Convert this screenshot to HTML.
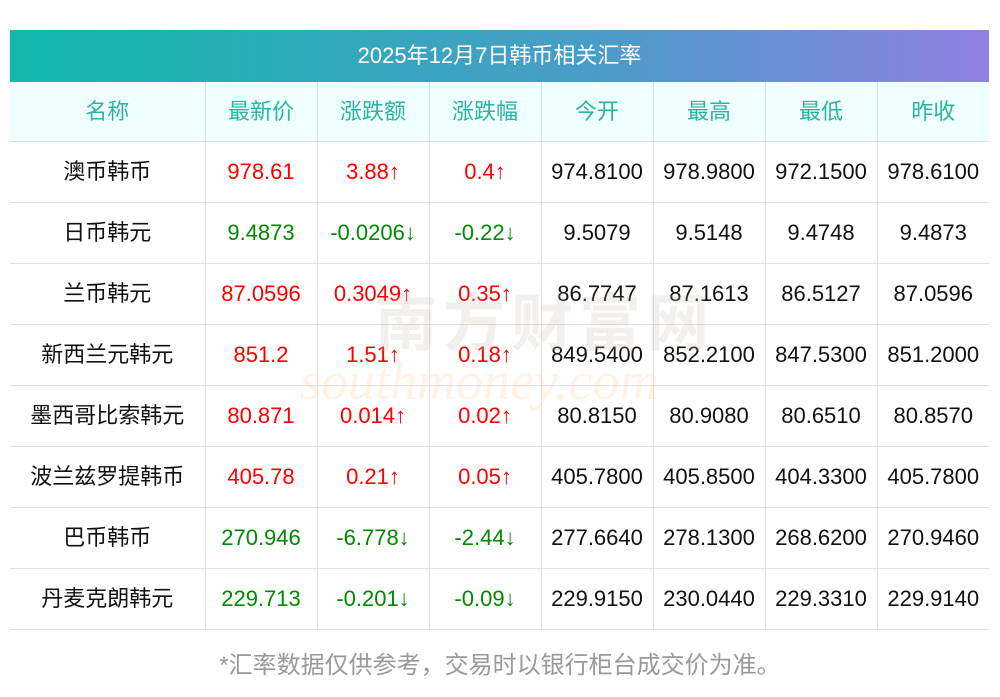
<!DOCTYPE html>
<html><head><meta charset="utf-8"><style>
body{margin:0;width:1000px;height:697px;background:#fff;font-family:"Liberation Sans","Noto Sans CJK SC",sans-serif;position:relative;overflow:hidden}
.title{position:absolute;left:10px;top:30px;width:979px;height:52px;background:linear-gradient(90deg,#12b9aa,#4a9cc8 60%,#9180e2);color:#fff;font-size:22px;line-height:52px;text-align:center}
table{position:absolute;left:10px;top:82px;width:979px;border-collapse:collapse;table-layout:fixed}
td,th{height:60px;border-bottom:1px solid #dfe0e8;border-left:1px solid #dfe0e8;text-align:center;font-size:22px;line-height:24px;font-weight:normal;padding:0;color:#111}
tr td:first-child,tr th:first-child{border-left:none}
th{background:#effffe;color:#2bb3a3;height:59px}
.r{color:#f00}.g{color:#008a00}
.foot{position:absolute;top:651px;width:1000px;text-align:center;color:#999;font-size:24px;line-height:30px}
.wm{position:absolute;left:375px;top:290px;font-size:62px;color:rgba(200,180,175,0.22);letter-spacing:6px;font-weight:bold;line-height:70px}
.wm2{position:absolute;left:300px;top:350px;font-size:54px;color:rgba(250,200,130,0.22);font-family:"Liberation Serif",serif;font-style:italic}
</style></head><body>
<div class="title">2025年12月7日韩币相关汇率</div>
<table>
<colgroup><col style="width:195px"><col style="width:112px"><col style="width:112px"><col style="width:112px"><col style="width:112px"><col style="width:112px"><col style="width:112px"><col style="width:112px"></colgroup>
<tr><th>名称</th><th>最新价</th><th>涨跌额</th><th>涨跌幅</th><th>今开</th><th>最高</th><th>最低</th><th>昨收</th></tr>
<tr><td>澳币韩币</td><td class="r">978.61</td><td class="r">3.88↑</td><td class="r">0.4↑</td><td>974.8100</td><td>978.9800</td><td>972.1500</td><td>978.6100</td></tr>
<tr><td>日币韩元</td><td class="g">9.4873</td><td class="g">-0.0206↓</td><td class="g">-0.22↓</td><td>9.5079</td><td>9.5148</td><td>9.4748</td><td>9.4873</td></tr>
<tr><td>兰币韩元</td><td class="r">87.0596</td><td class="r">0.3049↑</td><td class="r">0.35↑</td><td>86.7747</td><td>87.1613</td><td>86.5127</td><td>87.0596</td></tr>
<tr><td>新西兰元韩元</td><td class="r">851.2</td><td class="r">1.51↑</td><td class="r">0.18↑</td><td>849.5400</td><td>852.2100</td><td>847.5300</td><td>851.2000</td></tr>
<tr><td>墨西哥比索韩元</td><td class="r">80.871</td><td class="r">0.014↑</td><td class="r">0.02↑</td><td>80.8150</td><td>80.9080</td><td>80.6510</td><td>80.8570</td></tr>
<tr><td>波兰兹罗提韩币</td><td class="r">405.78</td><td class="r">0.21↑</td><td class="r">0.05↑</td><td>405.7800</td><td>405.8500</td><td>404.3300</td><td>405.7800</td></tr>
<tr><td>巴币韩币</td><td class="g">270.946</td><td class="g">-6.778↓</td><td class="g">-2.44↓</td><td>277.6640</td><td>278.1300</td><td>268.6200</td><td>270.9460</td></tr>
<tr><td>丹麦克朗韩元</td><td class="g">229.713</td><td class="g">-0.201↓</td><td class="g">-0.09↓</td><td>229.9150</td><td>230.0440</td><td>229.3310</td><td>229.9140</td></tr>
</table>
<div class="wm">南方财富网</div>
<div class="wm2">southmoney.com</div>
<div class="foot">*汇率数据仅供参考，交易时以银行柜台成交价为准。</div>
</body></html>
